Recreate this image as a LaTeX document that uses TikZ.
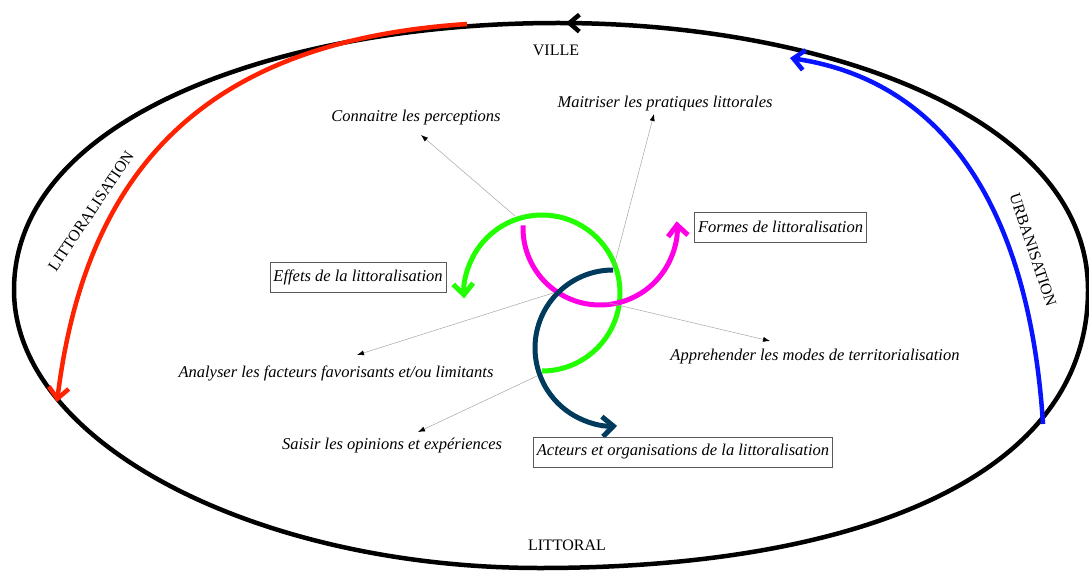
\documentclass[tikz,border=0pt]{standalone}
\usepackage{fontspec}
\setmainfont{Liberation Serif}
\usetikzlibrary{arrows.meta,decorations.markings}
\definecolor{cred}{RGB}{255,34,0}
\definecolor{cblue}{RGB}{8,20,255}
\definecolor{cgreen}{RGB}{34,255,0}
\definecolor{cmag}{RGB}{255,0,230}
\definecolor{cnavy}{RGB}{0,58,92}
\begin{document}
\begin{tikzpicture}[x=1pt,y=-1pt,
  lbl/.style={font=\fontsize{16.5}{19}\selectfont\itshape, inner sep=1pt},
  boxlbl/.style={lbl, draw=black!65, line width=0.8pt, inner xsep=3.5pt, inner ysep=1pt, minimum height=30pt},
  caplbl/.style={font=\fontsize{16}{19}\selectfont, inner sep=1pt},
  guide/.style={draw=black!35, line width=0.5pt, -{Latex[black,length=7pt,width=5pt]}},
  bigarc/.style={line width=4.5pt},
  barb/.style={-{Straight Barb[length=11pt,width=20pt]}},
]
\useasboundingbox (0,0) rectangle (1089,572);

% outer ring with arrow at top
\draw[bigarc, decoration={markings, mark=at position 0.997 with {\arrow{Straight Barb[length=10pt,width=17pt]}}}, postaction={decorate}]
  (558,23) .. controls (282,23) and (14,116.5) .. (14,290)
  .. controls (14,443.5) and (258,568) .. (540,568)
  .. controls (850,568) and (1088,480) .. (1088,290)
  .. controls (1088,116.5) and (823,23) .. (558,23);

% red and blue arcs
\draw[bigarc, cred, barb] (467,24) .. controls (225,40) and (88,150) .. (57,402);
\draw[bigarc, cblue, barb] (1043,424) .. controls (1030,220) and (952,82) .. (790,58);

% labels on ring
\node[caplbl] (ville) at (556,50) {VILLE};
\node[caplbl] (littoral) at (567,545) {LITTORAL};
\node[caplbl, rotate=56] (littoralisation) at (91,211) {LITTORALISATION};
\node[caplbl, rotate=-71.5] (urbanisation) at (1033,250) {URBANISATION};

% central arcs
\draw[line width=5pt, cgreen, barb] (542,293) ++(90:78) arc[start angle=90, end angle=-184, radius=78];
\draw[line width=5pt, cmag, barb] (600,228) ++(182:77) arc[start angle=182, end angle=-5, radius=77];
\draw[line width=5pt, cnavy, barb] (613,348) ++(270:78) arc[start angle=270, end angle=87, radius=78];

% text nodes
\node[lbl] (connaitre) at (416,118) {Connaitre les perceptions};
\node[lbl] (maitriser) at (665,104) {Maitriser les pratiques littorales};
\node[boxlbl] (formes) at (780.5,227) {Formes de littoralisation};
\node[boxlbl] (effets) at (358,277) {Effets de la littoralisation};
\node[lbl] (analyser) at (336,373) {Analyser les facteurs favorisants et/ou limitants};
\node[lbl] (apprehender) at (815,357) {Apprehender les modes de territorialisation};
\node[lbl] (saisir) at (392,446) {Saisir les opinions et expériences};
\node[boxlbl] (acteurs) at (683,452) {Acteurs et organisations de la littoralisation};

% guide lines
\coordinate (s1) at (515,216); \coordinate (t1) at (421,135);
\coordinate (s2) at (613,270); \coordinate (t2) at (654,114);
\coordinate (s3) at (553,293); \coordinate (t3) at (357,355);
\coordinate (s4) at (605,302); \coordinate (t4) at (770,341);
\coordinate (s5) at (537,376); \coordinate (t5) at (418,432);
\draw[guide] (s1) -- (t1);
\draw[guide] (s2) -- (t2);
\draw[guide] (s3) -- (t3);
\draw[guide] (s4) -- (t4);
\draw[guide] (s5) -- (t5);
\end{tikzpicture}
\end{document}
